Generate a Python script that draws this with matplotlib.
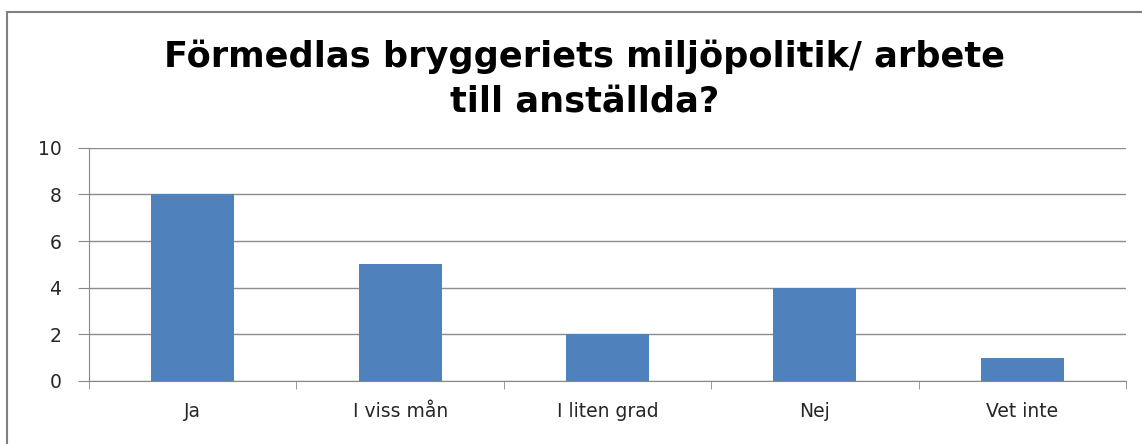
import matplotlib.pyplot as plt
from matplotlib.patches import Rectangle

categories = ["Ja", "I viss mån", "I liten grad", "Nej", "Vet inte"]
values = [8, 5, 2, 4, 1]

fig = plt.figure(figsize=(11.42, 4.44), dpi=100)
ax = fig.add_axes([0.078, 0.142, 0.908, 0.525])

x = range(len(categories))
ax.bar(x, values, width=0.4, color="#4F81BD", zorder=3)

ax.set_xlim(-0.5, len(categories) - 0.5)
ax.set_ylim(0, 10)
ax.set_yticks(range(0, 11, 2))
ax.set_xticks(list(x))
ax.set_xticklabels(categories)
ax.set_xticks([i - 0.5 for i in range(len(categories) + 1)], minor=True)
ax.tick_params(axis="x", which="major", length=0, pad=15, labelsize=13.5, colors="#262626")
ax.tick_params(axis="x", which="minor", length=6, color="#888888")
ax.tick_params(axis="y", length=8, color="#888888", labelsize=13.5, labelcolor="#262626", pad=12)
ax.grid(axis="y", color="#8c8c8c", linewidth=1, zorder=0)
for s in ["top", "right"]:
    ax.spines[s].set_visible(False)
for s in ["left", "bottom"]:
    ax.spines[s].set_color("#888888")

fig.text(0.512, 0.822, "Förmedlas bryggeriets miljöpolitik/ arbete\ntill anställda?",
         ha="center", va="center", fontsize=25.3, fontweight="bold", linespacing=1.4)

# outer chart border
fig.patches.append(Rectangle((0.006, -0.01), 1.2, 0.983, transform=fig.transFigure,
                             fill=False, edgecolor="#7f7f7f", linewidth=1.5))

fig.savefig("out.png", dpi=100)
